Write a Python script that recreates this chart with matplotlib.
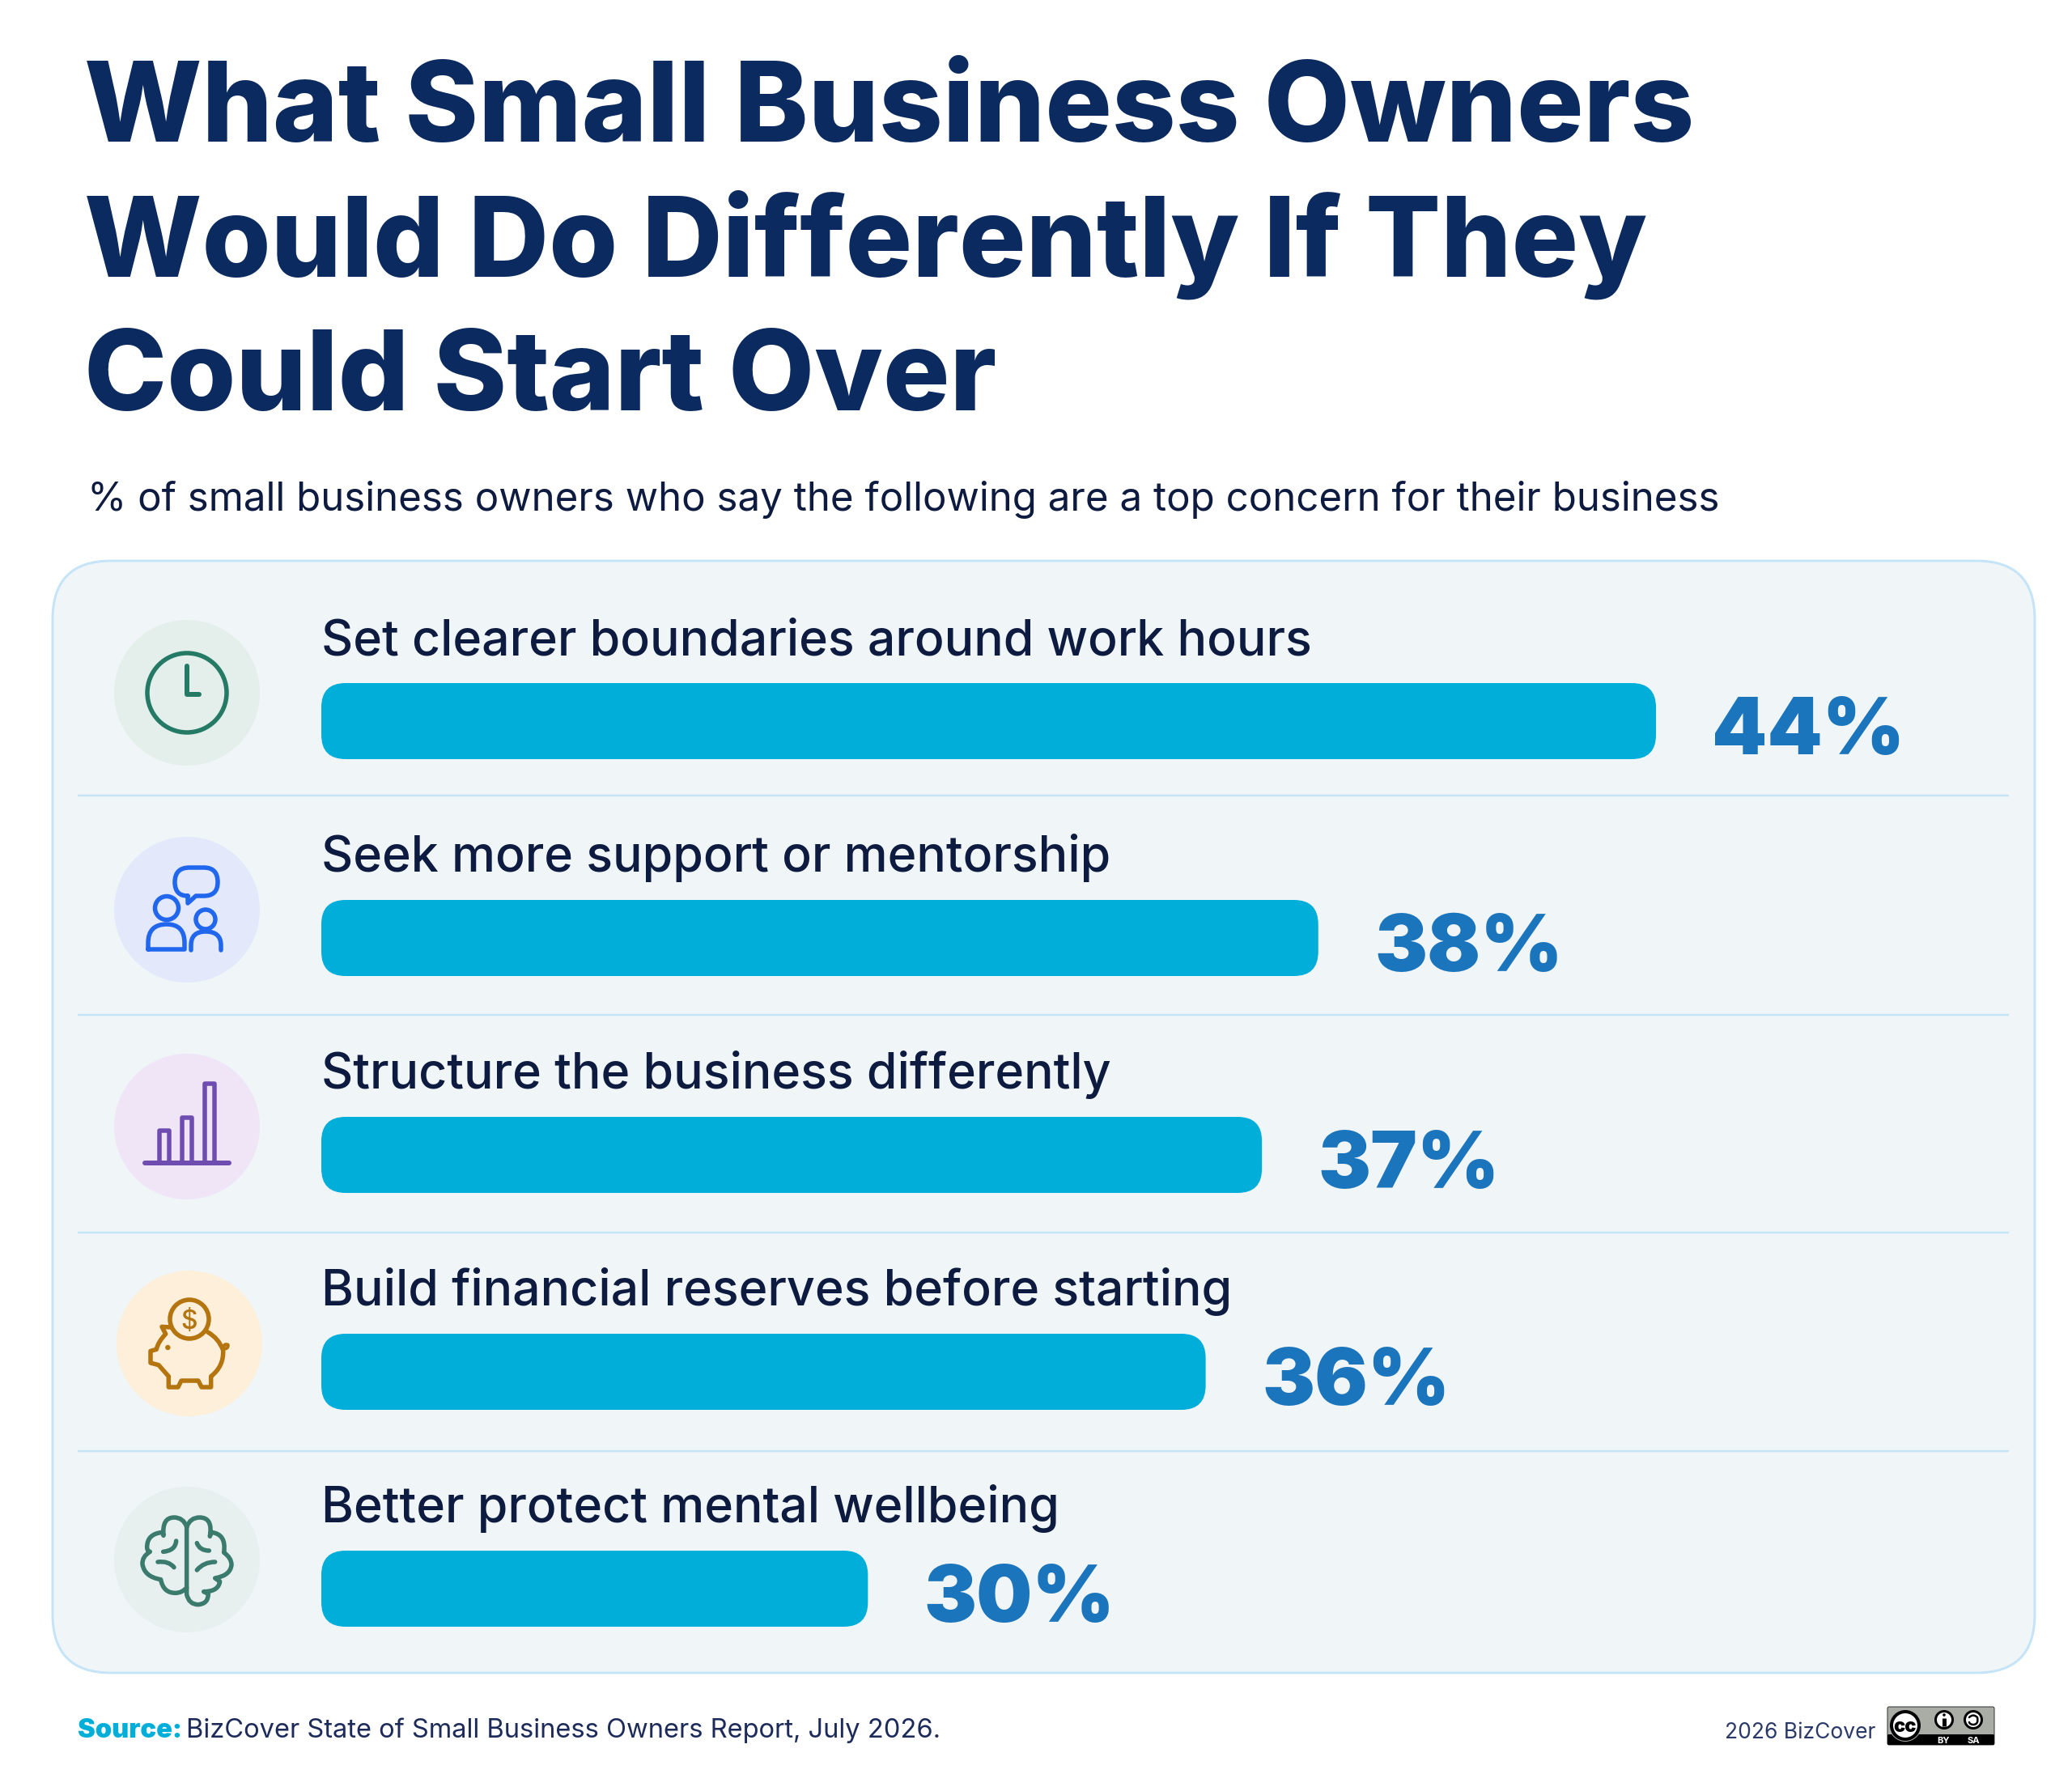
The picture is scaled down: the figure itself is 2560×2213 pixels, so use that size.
import matplotlib
matplotlib.use("Agg")
import matplotlib.pyplot as plt
from matplotlib.patches import Circle, FancyBboxPatch, PathPatch
from matplotlib.path import Path

# Survey results
categories = [
    "Set clearer boundaries around work hours",
    "Seek more support or mentorship",
    "Structure the business differently",
    "Build financial reserves before starting",
    "Better protect mental wellbeing",
]
values = [44, 38, 37, 36, 30]

title_lines = ["What Small Business Owners", "Would Do Differently If They", "Could Start Over"]
subtitle = "% of small business owners who say the following are a top concern for their business"
source_label = "Source:"
source_text = "BizCover State of Small Business Owners Report, July 2026."
credit = "2026 BizCover"

W, H = 2560, 2213
PX = 72 / 100  # points per pixel at 100 dpi

NAVY = "#0B2A5F"
INK = "#0E1B40"
CYAN = "#00AEDA"
BLUE = "#1B75BC"
EDGE = "#C6E4F7"
PANEL = "#F0F5F7"
ICON_LW = 5.5

fig = plt.figure(figsize=(W / 100, H / 100), dpi=100, facecolor="white")

# Full-figure canvas measured in pixels, y pointing down
canvas = fig.add_axes([0, 0, 1, 1])
canvas.set_xlim(0, W)
canvas.set_ylim(H, 0)
canvas.axis("off")


def curve(x0, y0, scale, segments, color, lw=ICON_LW, z=5):
    """Stroke a path of line and quadratic segments given in a local grid."""
    verts, codes = [], []
    for seg in segments:
        pts = [(x0 + a / scale, y0 + b / scale) for a, b in seg[1:]]
        op = seg[0]
        if op == "M":
            codes += [Path.MOVETO]
        elif op == "L":
            codes += [Path.LINETO]
        else:
            codes += [Path.CURVE3, Path.CURVE3]
        verts += pts
    canvas.add_patch(PathPatch(Path(verts, codes), facecolor="none", edgecolor=color, lw=lw * PX,
                               capstyle="round", joinstyle="round", zorder=z))


# Heading block
title_y = [175, 342, 507]
for line, y in zip(title_lines, title_y):
    canvas.text(104, y, line, family="Inter", weight=800, fontsize=99,
                color=NAVY, va="baseline", ha="left")
canvas.text(108, 631, subtitle, family="Inter", weight=400, fontsize=35.5, color=INK, va="baseline", ha="left")

# Rounded panel behind the rows
canvas.add_patch(FancyBboxPatch((65, 693), 2449, 1374, boxstyle="round,pad=0,rounding_size=72",
                                facecolor=PANEL, edgecolor=EDGE, lw=3 * PX, zorder=1))
for y in [983, 1254, 1523, 1793]:
    canvas.plot([96, 2482], [y, y], color=EDGE, lw=2.5 * PX, zorder=2, solid_capstyle="butt")

# Bars share a linear value axis with a truncated baseline
BASE = 20.29
UNIT = 69.55
ROW0, ROW = 891, 268
ax = fig.add_axes([397 / W, 1 - (ROW0 + 4.5 * ROW) / H, 2100 / W, 5 * ROW / H])
ax.set_xlim(BASE, BASE + 2100 / UNIT)
ax.set_ylim(4.5, -0.5)
ax.axis("off")
ax.patch.set_alpha(0)
bar_h = 94 / ROW
aspect = UNIT / ROW
for i, (cat, val) in enumerate(zip(categories, values)):
    ax.add_patch(FancyBboxPatch((BASE, i - bar_h / 2), val - BASE, bar_h,
                                boxstyle=f"round,pad=0,rounding_size={30 / UNIT}",
                                mutation_aspect=aspect, facecolor=CYAN, edgecolor="none", zorder=3))
    ax.annotate(f"{val}%", xy=(val, i), xytext=(50, -41 * PX), textcoords="offset points",
                family="Inter", weight=900, fontsize=70, color=BLUE, va="baseline", ha="left",
                annotation_clip=False, zorder=4)
    ax.annotate(cat, xy=(BASE, i), xytext=(0, 82 * PX), textcoords="offset points",
                family="Inter", weight=500, fontsize=43.8, color=INK, va="baseline", ha="left",
                annotation_clip=False, zorder=4)

# Icon discs
discs = [(231, 856, "#E4EEEB"), (231, 1124, "#E3E8FB"), (231, 1392, "#EFE5F7"), (234, 1660, "#FDEFDA"), (231, 1927, "#E7EFEF")]
for cx, cy, col in discs:
    canvas.add_patch(Circle((cx, cy), 90, facecolor=col, edgecolor="none", zorder=2))

# Clock
GREEN = "#257A65"
canvas.add_patch(Circle((231, 856), 49, facecolor="none", edgecolor=GREEN, lw=ICON_LW * PX, zorder=5))
canvas.plot([231, 231, 246], [823, 858, 858], color=GREEN, lw=6 * PX, solid_capstyle="round", solid_joinstyle="round", zorder=5)

# Two people with a speech bubble
PEOPLE = "#2167EE"
curve(0, 0, 1, [("M", (232, 1107)), ("Q", (216, 1107), (216, 1090)), ("Q", (216, 1072), (234, 1072)),
                ("L", (252, 1072)), ("Q", (269, 1072), (269, 1090)), ("Q", (269, 1107), (252, 1107)),
                ("L", (242, 1107)), ("L", (232, 1116)), ("L", (232, 1107))], PEOPLE)
canvas.add_patch(Circle((206, 1122), 14.5, facecolor="none", edgecolor=PEOPLE, lw=ICON_LW * PX, zorder=5))
curve(0, 0, 1, [("M", (183, 1173)), ("L", (183, 1165)), ("Q", (183, 1142), (206, 1142)),
                ("Q", (228, 1142), (228, 1165)), ("L", (228, 1173)), ("L", (183, 1173))], PEOPLE)
canvas.add_patch(Circle((254, 1136), 12, facecolor="none", edgecolor=PEOPLE, lw=ICON_LW * PX, zorder=5))
curve(0, 0, 1, [("M", (236, 1174)), ("L", (236, 1168)), ("Q", (236, 1151), (254, 1151)),
                ("Q", (273, 1151), (273, 1168)), ("L", (273, 1174))], PEOPLE)

# Small column chart
PURPLE = "#6F4DB0"
canvas.plot([179, 283], [1437, 1437], color=PURPLE, lw=6 * PX, solid_capstyle="round", zorder=5)
for x0, x1, top in [(197, 209, 1397), (225, 237, 1381), (253, 265, 1339)]:
    canvas.plot([x0, x0, x1, x1], [1437, top, top, 1437], color=PURPLE, lw=ICON_LW * PX,
                solid_joinstyle="round", zorder=5)

# Piggy bank and coin
GOLD = "#B4740E"
canvas.add_patch(Circle((234, 1630), 24, facecolor="none", edgecolor=GOLD, lw=ICON_LW * PX, zorder=5))
canvas.text(234, 1630, "$", family="Inter", weight=500, fontsize=23, color=GOLD, ha="center", va="center_baseline", zorder=5)
curve(100, 1540, 3, [("M", (330, 300)), ("L", (300, 298)), ("L", (314, 325)), ("Q", (285, 355), (280, 382)),
                     ("L", (258, 388)), ("L", (258, 432)), ("L", (288, 440)), ("L", (325, 482)), ("L", (325, 522)),
                     ("L", (360, 522)), ("L", (372, 498)), ("L", (435, 498)), ("L", (447, 522)), ("L", (482, 522)),
                     ("L", (482, 482)), ("Q", (530, 445), (527, 385)), ("Q", (510, 340), (470, 318))], GOLD)
curve(100, 1540, 3, [("M", (524, 380)), ("Q", (548, 382), (545, 365)), ("Q", (530, 358), (527, 378))], GOLD, lw=4)
canvas.add_patch(Circle((100 + 322 / 3, 1540 + 375 / 3), 3.2, facecolor=GOLD, edgecolor="none", zorder=5))

# Brain
TEAL = "#3A7B6E"
curve(100, 1810, 3, [("M", (392, 230)), ("Q", (380, 195), (345, 195)), ("Q", (300, 195), (306, 262)),
                     ("L", (303, 250)), ("Q", (245, 255), (245, 305)), ("Q", (245, 320), (256, 322)),
                     ("Q", (226, 340), (228, 368)), ("Q", (235, 415), (296, 425)),
                     ("Q", (305, 475), (350, 475)), ("Q", (375, 475), (392, 455))], TEAL)
curve(100, 1810, 3, [("M", (392, 230)), ("L", (392, 480)), ("Q", (400, 518), (435, 518)),
                     ("Q", (472, 515), (472, 478)), ("L", (455, 470)), ("Q", (510, 470), (515, 432)),
                     ("L", (497, 420)), ("Q", (555, 410), (558, 370)), ("Q", (558, 345), (530, 325)),
                     ("Q", (540, 255), (482, 250)), ("L", (478, 265)), ("Q", (490, 195), (440, 195)),
                     ("Q", (405, 195), (392, 230))], TEAL)
for fold in [[("M", (353, 282)), ("Q", (350, 318), (305, 322))],
             [("M", (285, 360)), ("Q", (325, 355), (345, 380))],
             [("M", (430, 290)), ("Q", (440, 318), (475, 318))],
             [("M", (430, 390)), ("Q", (455, 360), (497, 360))]]:
    curve(100, 1810, 3, fold, TEAL)

# Footer
canvas.text(96, 2147, source_label, family="Inter", weight=900, fontsize=23.5, color=CYAN, va="baseline", ha="left")
canvas.text(230, 2147, source_text, family="Inter", weight=400, fontsize=23.5, color="#1C2B5A", va="baseline", ha="left")
canvas.text(2131, 2148, credit, family="Inter", weight=400, fontsize=19, color="#2A3A68", va="baseline", ha="left")

# Licence badge
canvas.add_patch(FancyBboxPatch((2332, 2109), 132, 47, boxstyle="round,pad=0,rounding_size=2",
                                facecolor="#A9ADA6", edgecolor="#333333", lw=1 * PX, zorder=5))
canvas.add_patch(FancyBboxPatch((2332, 2143), 132, 13, boxstyle="round,pad=0,rounding_size=1.5",
                                facecolor="black", edgecolor="none", zorder=6))
canvas.add_patch(Circle((2354, 2132), 20, facecolor="#A9ADA6", edgecolor="none", zorder=6))
canvas.add_patch(Circle((2354, 2132), 17, facecolor="white", edgecolor="black", lw=4 * PX, zorder=7))
canvas.text(2354, 2132, "cc", family="Inter", weight=900, fontsize=17, color="black", ha="center", va="center_baseline", zorder=8)
canvas.add_patch(Circle((2402, 2125), 10.5, facecolor="white", edgecolor="black", lw=3 * PX, zorder=7))
canvas.plot([2402, 2402], [2123, 2133], color="black", lw=5 * PX, solid_capstyle="butt", zorder=8)
canvas.add_patch(Circle((2402, 2119), 1.8, facecolor="black", edgecolor="none", zorder=8))
canvas.add_patch(Circle((2438, 2125), 10.5, facecolor="white", edgecolor="black", lw=3 * PX, zorder=7))
curve(0, 0, 1, [("M", (2433, 2122)), ("Q", (2438, 2117), (2443, 2122)), ("Q", (2445, 2131), (2438, 2131)),
                ("Q", (2434, 2131), (2433, 2128))], "black", lw=2.5, z=8)
canvas.text(2401, 2150, "BY", family="Inter", weight=700, fontsize=8, color="white", ha="center", va="center_baseline", zorder=8)
canvas.text(2438, 2150, "SA", family="Inter", weight=700, fontsize=8, color="white", ha="center", va="center_baseline", zorder=8)

fig.savefig("out.png", dpi=100, facecolor="white")
